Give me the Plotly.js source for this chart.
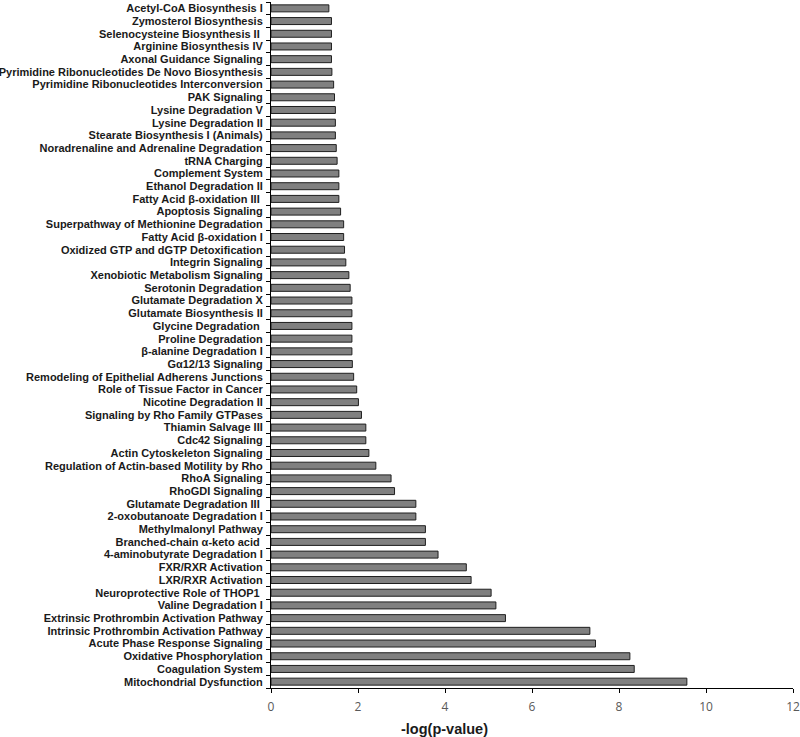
<!DOCTYPE html>
<html>
<head>
<meta charset="utf-8">
<script src="https://cdn.plot.ly/plotly-3.0.1.min.js"></script>
<style>html,body{margin:0;padding:0;background:#fff;}#chart{width:800px;height:737px;}</style>
</head>
<body>
<div id="chart"></div>
<script>
// Categories listed top to bottom as in the reference
var pathways = [
  "Acetyl-CoA Biosynthesis I",
  "Zymosterol Biosynthesis",
  "Selenocysteine Biosynthesis II\u00a0",
  "Arginine Biosynthesis IV",
  "Axonal Guidance Signaling",
  "Pyrimidine Ribonucleotides De Novo Biosynthesis",
  "Pyrimidine Ribonucleotides Interconversion",
  "PAK Signaling",
  "Lysine Degradation V",
  "Lysine Degradation II",
  "Stearate Biosynthesis I (Animals)",
  "Noradrenaline and Adrenaline Degradation",
  "tRNA Charging",
  "Complement System",
  "Ethanol Degradation II",
  "Fatty Acid β-oxidation III\u00a0",
  "Apoptosis Signaling",
  "Superpathway of Methionine Degradation",
  "Fatty Acid β-oxidation I",
  "Oxidized GTP and dGTP Detoxification",
  "Integrin Signaling",
  "Xenobiotic Metabolism Signaling",
  "Serotonin Degradation",
  "Glutamate Degradation X",
  "Glutamate Biosynthesis II",
  "Glycine Degradation\u00a0",
  "Proline Degradation",
  "β-alanine Degradation I",
  "Gα12/13 Signaling",
  "Remodeling of Epithelial Adherens Junctions",
  "Role of Tissue Factor in Cancer",
  "Nicotine Degradation II",
  "Signaling by Rho Family GTPases",
  "Thiamin Salvage III",
  "Cdc42 Signaling",
  "Actin Cytoskeleton Signaling",
  "Regulation of Actin-based Motility by Rho",
  "RhoA Signaling",
  "RhoGDI Signaling",
  "Glutamate Degradation III\u00a0",
  "2-oxobutanoate Degradation I",
  "Methylmalonyl Pathway",
  "Branched-chain α-keto acid\u00a0",
  "4-aminobutyrate Degradation I",
  "FXR/RXR Activation",
  "LXR/RXR Activation",
  "Neuroprotective Role of THOP1\u00a0",
  "Valine Degradation I",
  "Extrinsic Prothrombin Activation Pathway",
  "Intrinsic Prothrombin Activation Pathway",
  "Acute Phase Response Signaling",
  "Oxidative Phosphorylation",
  "Coagulation System",
  "Mitochondrial Dysfunction"
];

var negLogP = [
  1.33, 1.39, 1.39, 1.39, 1.39, 1.40, 1.44, 1.46, 1.48, 1.48,
  1.48, 1.50, 1.52, 1.56, 1.56, 1.56, 1.60, 1.67, 1.67, 1.69,
  1.72, 1.79, 1.82, 1.86, 1.86, 1.86, 1.86, 1.86, 1.87, 1.90,
  1.97, 2.01, 2.08, 2.18, 2.18, 2.25, 2.41, 2.76, 2.84, 3.33,
  3.33, 3.55, 3.55, 3.84, 4.49, 4.60, 5.06, 5.17, 5.39, 7.33,
  7.46, 8.25, 8.35, 9.56
];

var xTicks = [0, 2, 4, 6, 8, 10, 12];
var xTitle = "-log(p-value)";

var trace = {
  type: "bar",
  orientation: "h",
  x: negLogP,
  y: pathways,
  width: 0.55,
  marker: {color: "#808080", line: {color: "#1f1f1f", width: 1}},
  hoverinfo: "x+y"
};

var layout = {
  width: 800,
  height: 737,
  margin: {l: 271, r: 7, t: 2, b: 49},
  paper_bgcolor: "#ffffff",
  plot_bgcolor: "#ffffff",
  showlegend: false,
  xaxis: {
    range: [0, 12],
    tickmode: "array",
    tickvals: xTicks,
    ticktext: xTicks.map(String),
    showgrid: false,
    zeroline: false,
    showline: true,
    linecolor: "#000000",
    linewidth: 1,
    ticks: "outside",
    ticklen: 4,
    tickcolor: "#000000",
    ticklabelstandoff: 4,
    tickfont: {family: "Open Sans, Liberation Sans, sans-serif", size: 12, color: "#595959"}
  },
  yaxis: {
    type: "category",
    autorange: "reversed",
    tickmode: "array",
    tickvals: pathways,
    ticktext: pathways,
    showgrid: false,
    zeroline: false,
    showline: true,
    linecolor: "#000000",
    linewidth: 1,
    ticks: "outside",
    tickson: "boundaries",
    ticklen: 4,
    tickcolor: "#000000",
    ticklabelstandoff: 5,
    tickfont: {family: "Liberation Sans, Arial, sans-serif", size: 11, color: "#1a1a1a", weight: "bold"}
  },
  annotations: [{
    text: "<b>" + xTitle + "</b>",
    xref: "paper", yref: "paper",
    x: 0.333, y: -0.06,
    xanchor: "center", yanchor: "middle",
    showarrow: false,
    font: {family: "Liberation Sans, Arial, sans-serif", size: 14.5, color: "#1a1a1a"}
  }]
};

Plotly.newPlot("chart", [trace], layout, {displayModeBar: false, staticPlot: true});
</script>
</body>
</html>
